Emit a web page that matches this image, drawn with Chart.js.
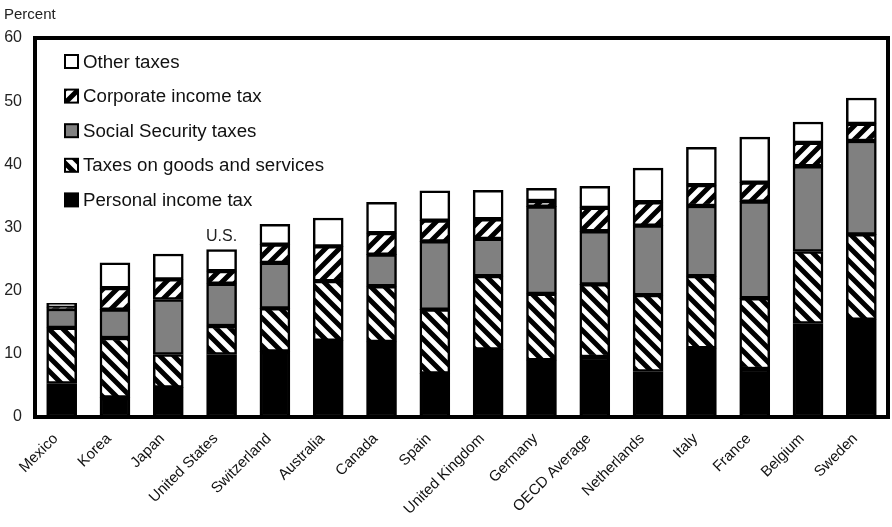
<!DOCTYPE html>
<html>
<head>
<meta charset="utf-8">
<script src="https://cdn.jsdelivr.net/npm/chart.js@4.4.1/dist/chart.umd.min.js"></script>
<style>
  html, body { margin: 0; padding: 0; background: #ffffff; }
  #wrap { width: 892px; height: 527px; position: relative; }
</style>
</head>
<body>
<div id="wrap"><canvas id="c" width="892" height="527"></canvas></div>
<script>
// ---- Data (percent of GDP) ----
const categories = ["Mexico", "Korea", "Japan", "United States", "Switzerland", "Australia", "Canada", "Spain", "United Kingdom", "Germany", "OECD Average", "Netherlands", "Italy", "France", "Belgium", "Sweden"];
const personalIncomeTax = [5.3, 3.1, 4.7, 9.9, 10.4, 12.1, 11.9, 6.9, 10.7, 9.0, 9.5, 7.2, 10.9, 7.6, 14.8, 15.4];
const goodsServicesTax  = [8.8, 9.4, 5.2, 4.5, 6.8, 9.4, 8.8, 10.1, 11.6, 10.5, 11.5, 12.1, 11.4, 11.2, 11.4, 13.5];
const socialSecurityTax = [3.0, 4.5, 8.7, 6.7, 7.2, 0.0, 5.0, 10.8, 5.9, 13.8, 8.4, 11.0, 11.1, 15.3, 13.5, 14.8];
const corporateIncomeTax = [0.3, 3.4, 3.2, 2.0, 2.9, 5.5, 3.4, 3.3, 3.1, 0.9, 3.7, 3.7, 3.3, 3.0, 3.7, 2.7];
const otherTaxes        = [0.6, 4.0, 4.0, 3.4, 3.2, 4.5, 4.9, 4.7, 4.6, 2.0, 3.4, 5.4, 6.0, 7.2, 3.3, 4.1];
const yTickValues = [0, 10, 20, 30, 40, 50, 60];
const seriesNames = ["Personal income tax", "Taxes on goods and services", "Social Security taxes", "Corporate income tax", "Other taxes"];
const annotationLabel = "U.S.";
const annotationCategory = "United States";
const yAxisTitle = "Percent";

// ---- Patterns ----
function makeStripes(dir) {
  const s = 28, step = 14;
  const c = document.createElement('canvas');
  c.width = s; c.height = s;
  const g = c.getContext('2d');
  g.fillStyle = '#ffffff';
  g.fillRect(0, 0, s, s);
  g.strokeStyle = '#000000';
  g.lineWidth = 5;
  g.beginPath();
  for (let k = -s; k <= s; k += step) {
    if (dir === 'back') { g.moveTo(k - 2, -2); g.lineTo(k + s + 2, s + 2); }
    else { g.moveTo(k - 2, s + 2); g.lineTo(k + s + 2, -2); }
  }
  g.stroke();
  return g.createPattern(c, 'repeat');
}
const goodsPattern = makeStripes('back');
const corpPattern = makeStripes('fwd');

const FONT = "'Liberation Sans', Arial, sans-serif";

const fills = ['#000000', goodsPattern, '#808080', corpPattern, '#ffffff'];
const seriesData = [personalIncomeTax, goodsServicesTax, socialSecurityTax, corporateIncomeTax, otherTaxes];

const datasets = seriesNames.map((name, i) => ({
  label: name,
  data: seriesData[i],
  backgroundColor: fills[i],
  borderColor: '#000000',
  borderWidth: 2.5,
  borderSkipped: false,
  barThickness: 30
}));

const framePlugin = {
  id: 'frame',
  afterDatasetsDraw(chart) {
    const { ctx, chartArea: a } = chart;
    ctx.save();
    ctx.strokeStyle = '#000';
    ctx.lineWidth = 4;
    ctx.beginPath();
    ctx.moveTo(a.left, a.bottom);
    ctx.lineTo(a.left, a.top);
    ctx.lineTo(a.right, a.top);
    ctx.lineTo(a.right, a.bottom);
    ctx.stroke();
    ctx.beginPath();
    ctx.moveTo(a.left - 2, a.bottom);
    ctx.lineTo(a.right + 2, a.bottom);
    ctx.stroke();
    ctx.restore();
  }
};

const extrasPlugin = {
  id: 'extras',
  afterDraw(chart) {
    const { ctx } = chart;
    const xs = chart.scales.x, ys = chart.scales.y;
    ctx.save();
    // y axis title
    ctx.fillStyle = '#222';
    ctx.font = '15px ' + FONT;
    ctx.textAlign = 'left';
    ctx.textBaseline = 'alphabetic';
    ctx.fillText(yAxisTitle, 4, 19);
    // U.S. annotation
    const idx = categories.indexOf(annotationCategory);
    let total = 0;
    chart.data.datasets.forEach(d => { total += d.data[idx]; });
    ctx.font = '16px ' + FONT;
    ctx.textAlign = 'center';
    ctx.textBaseline = 'alphabetic';
    ctx.fillText(annotationLabel, xs.getPixelForValue(idx), ys.getPixelForValue(total) - 9);
    // Legend (reverse order)
    const n = chart.data.datasets.length;
    const boxX = 65, box = 13, textX = 83;
    ctx.font = '18.7px ' + FONT;
    ctx.textAlign = 'left';
    ctx.textBaseline = 'middle';
    for (let j = 0; j < n; j++) {
      const d = chart.data.datasets[n - 1 - j];
      const cy = 61.5 + j * 34.6;
      ctx.fillStyle = d.backgroundColor;
      ctx.fillRect(boxX, cy - box / 2, box, box);
      ctx.lineWidth = 2;
      ctx.strokeStyle = '#000';
      ctx.strokeRect(boxX, cy - box / 2, box, box);
      ctx.fillStyle = '#111';
      ctx.fillText(d.label, textX, cy + 1);
    }
    ctx.restore();
  }
};

new Chart(document.getElementById('c'), {
  type: 'bar',
  data: { labels: categories, datasets },
  options: {
    responsive: false,
    animation: false,
    devicePixelRatio: 1,
    layout: { padding: { top: 38, right: 4, left: 0, bottom: 0 } },
    plugins: { legend: { display: false }, tooltip: { enabled: false } },
    scales: {
      x: {
        stacked: true,
        grid: { display: false, drawTicks: false },
        border: { display: false },
        ticks: {
          color: '#111',
          font: { family: FONT, size: 15 },
          minRotation: 45,
          maxRotation: 45,
          autoSkip: false,
          padding: 13,
          labelOffset: -6
        },
        afterFit(s) { s.height = 110; }
      },
      y: {
        stacked: true,
        min: 0,
        max: 60,
        grid: { display: false, drawTicks: false },
        border: { display: false },
        afterBuildTicks(s) { s.ticks = yTickValues.map(v => ({ value: v })); },
        ticks: {
          color: '#222',
          font: { family: FONT, size: 16 },
          padding: 13
        },
        afterFit(s) { s.width = 35; }
      }
    }
  },
  plugins: [framePlugin, extrasPlugin]
});
</script>
</body>
</html>
